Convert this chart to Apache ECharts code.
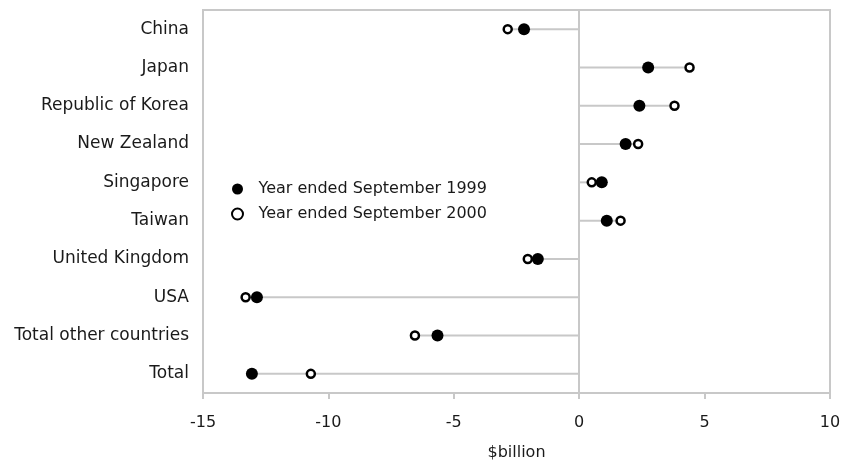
<!DOCTYPE html>
<html>
<head>
<meta charset="utf-8">
<script src="https://cdn.jsdelivr.net/npm/echarts@6/dist/echarts.min.js"></script>
<style>html,body{margin:0;padding:0;background:#fff}#c{width:845px;height:461px}</style>
</head>
<body>
<div id="c"></div>
<script>
const categories = ["China","Japan","Republic of Korea","New Zealand","Singapore","Taiwan","United Kingdom","USA","Total other countries","Total"];
const y1999 = [-2.2, 2.75, 2.4, 1.85, 0.9, 1.1, -1.65, -12.85, -5.65, -13.05];
const y2000 = [-2.85, 4.4, 3.8, 2.35, 0.5, 1.65, -2.05, -13.3, -6.55, -10.7];
const xTicks = [-15, -10, -5, 0, 5, 10];
const seriesNames = ["Year ended September 1999", "Year ended September 2000"];

const extent = y1999.map((v, i) => Math.abs(v) > Math.abs(y2000[i]) ? v : y2000[i]);
const font = "DejaVu Sans";
const chart = echarts.init(document.getElementById('c'));
chart.setOption({
  animation: false,
  textStyle: {fontFamily: font},
  grid: {left: 203, right: 15, top: 10, bottom: 68, containLabel: false, outerBoundsMode: 'none',
    show: true, borderColor: '#c8c8c8', borderWidth: 2, backgroundColor: 'transparent'},
  legend: {
    orient: 'vertical', left: 226, top: 176, itemGap: 9, itemWidth: 32, itemHeight: 11,
    data: seriesNames,
    textStyle: {fontFamily: font, fontSize: 16, color: '#1a1a1a'}
  },
  xAxis: {
    type: 'value', min: xTicks[0], max: xTicks[xTicks.length - 1], interval: 5,
    name: '$billion', nameLocation: 'middle', nameGap: 52,
    nameTextStyle: {fontFamily: font, fontSize: 16, color: '#1a1a1a'},
    axisLine: {show: true, lineStyle: {color: '#c8c8c8', width: 2}},
    axisTick: {show: true, length: 6, lineStyle: {color: '#c8c8c8', width: 2}},
    axisLabel: {fontFamily: font, fontSize: 16, color: '#1a1a1a', margin: 22},
    splitLine: {show: false}
  },
  yAxis: {
    type: 'category', data: categories, inverse: true,
    axisLine: {show: false, onZero: false}, axisTick: {show: false},
    axisLabel: {fontFamily: font, fontSize: 17, color: '#1a1a1a', margin: 14},
    splitLine: {show: false}
  },
  series: [
    {
      type: 'bar', data: extent, barWidth: 2, silent: true,
      itemStyle: {color: '#c8c8c8'},
      markLine: {silent: true, symbol: 'none', label: {show: false},
        lineStyle: {color: '#c8c8c8', width: 2, type: 'solid'}, data: [{xAxis: 0}]}
    },
    {
      name: seriesNames[0], type: 'scatter', data: y1999, symbol: 'circle', symbolSize: 12,
      itemStyle: {color: '#000', opacity: 1}
    },
    {
      name: seriesNames[1], type: 'scatter', data: y2000, symbol: 'circle', symbolSize: 8,
      itemStyle: {color: '#fff', borderColor: '#000', borderWidth: 2.5, opacity: 1}
    }
  ]
});
</script>
</body>
</html>
